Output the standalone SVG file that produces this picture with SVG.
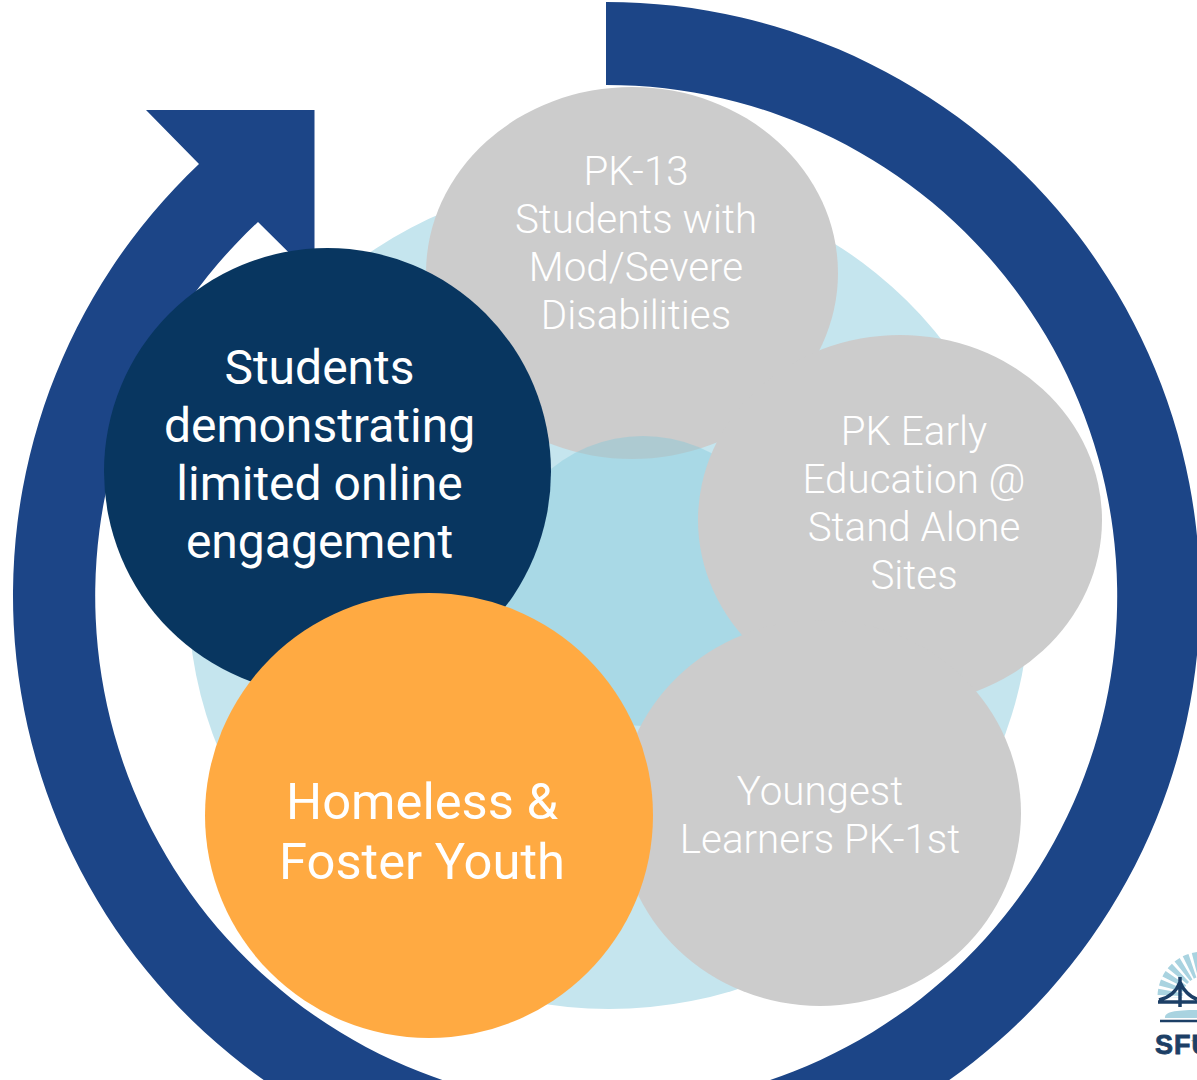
<svg xmlns="http://www.w3.org/2000/svg" width="1197" height="1080" viewBox="0 0 1197 1080">
<style>
.t{font-family:Roboto,"Liberation Sans",sans-serif;fill:#fff;text-anchor:middle}
.g{font-size:40.300px;font-weight:300}
.d{font-size:48px;font-weight:400}
.o{font-size:50.700px;font-weight:400}
.gray{fill:#ccc}
</style>
<rect width="1197" height="1080" fill="#fff"/>
<g id="ring"><path fill="#1c4587" d="M606 2A593.500 593.500 0 1 1 199 164L146 110H314.500V278L258 222A511 511 0 1 0 606 85Z"/></g>
<g id="background"><ellipse cx="609" cy="594" rx="421" ry="415" fill="#c5e5ee"/></g>
<g id="node-disabilities">
<ellipse class="gray" cx="632" cy="273" rx="206" ry="186"/>
</g>
<g id="center"><circle cx="643" cy="581" r="145" fill="#7fc7da" fill-opacity=".4"/></g>
<g id="node-disabilities-label">
<text class="t g" x="636" y="184.500">PK-13</text>
<text class="t g" x="636" y="232.500">Students with</text>
<text class="t g" x="636" y="280.500">Mod/Severe</text>
<text class="t g" x="636" y="328.500">Disabilities</text>
</g>
<g id="node-early">
<ellipse class="gray" cx="900" cy="520" rx="202" ry="185"/>
<text class="t g" x="914" y="444.500">PK Early</text>
<text class="t g" x="914" y="492.500">Education @</text>
<text class="t g" x="914" y="540.500">Stand Alone</text>
<text class="t g" x="914" y="588.500">Sites</text>
</g>
<g id="node-youngest">
<ellipse class="gray" cx="820" cy="813" rx="201" ry="193"/>
<text class="t g" x="820" y="804.500">Youngest</text>
<text class="t g" x="820" y="852.500">Learners PK-1st</text>
</g>
<g id="node-online">
<circle cx="327.500" cy="471.500" r="223.500" fill="#083660"/>
<text class="t d" x="319.500" y="384">Students</text>
<text class="t d" x="319.500" y="442">demonstrating</text>
<text class="t d" x="319.500" y="500">limited online</text>
<text class="t d" x="319.500" y="558">engagement</text>
</g>
<g id="node-homeless">
<ellipse cx="429" cy="815.500" rx="224" ry="222.500" fill="#ffaa42"/>
<text class="t o" x="422" y="819">Homeless &amp;</text>
<text class="t o" x="422" y="879">Foster Youth</text>
</g>
<g id="logo">
<circle cx="1203" cy="997" r="33" fill="none" stroke="#a9d3e0" stroke-width="25" stroke-dasharray="4.500 2.500"/>
<rect x="1150" y="998" width="47" height="42" fill="#fff"/>
<path d="M1180 977V1007M1158 1002H1197M1159 1000C1172 997 1177 990 1180 982C1183 990 1190 997 1197 999" fill="none" stroke="#1c3f66" stroke-width="3.500"/>
<path d="M1165 1018C1164 1012 1175 1010 1197 1010V1018Z" fill="#a9d3e0"/>
<path d="M1160 1021H1197" stroke="#1c3f66" stroke-width="2.500"/>
<text x="1155" y="1054" font-family="'Liberation Sans',Arial,sans-serif" font-weight="700" font-size="27" letter-spacing="1" fill="#1c3f66" stroke="#1c3f66" stroke-width=".8">SFU</text>
</g>
</svg>
